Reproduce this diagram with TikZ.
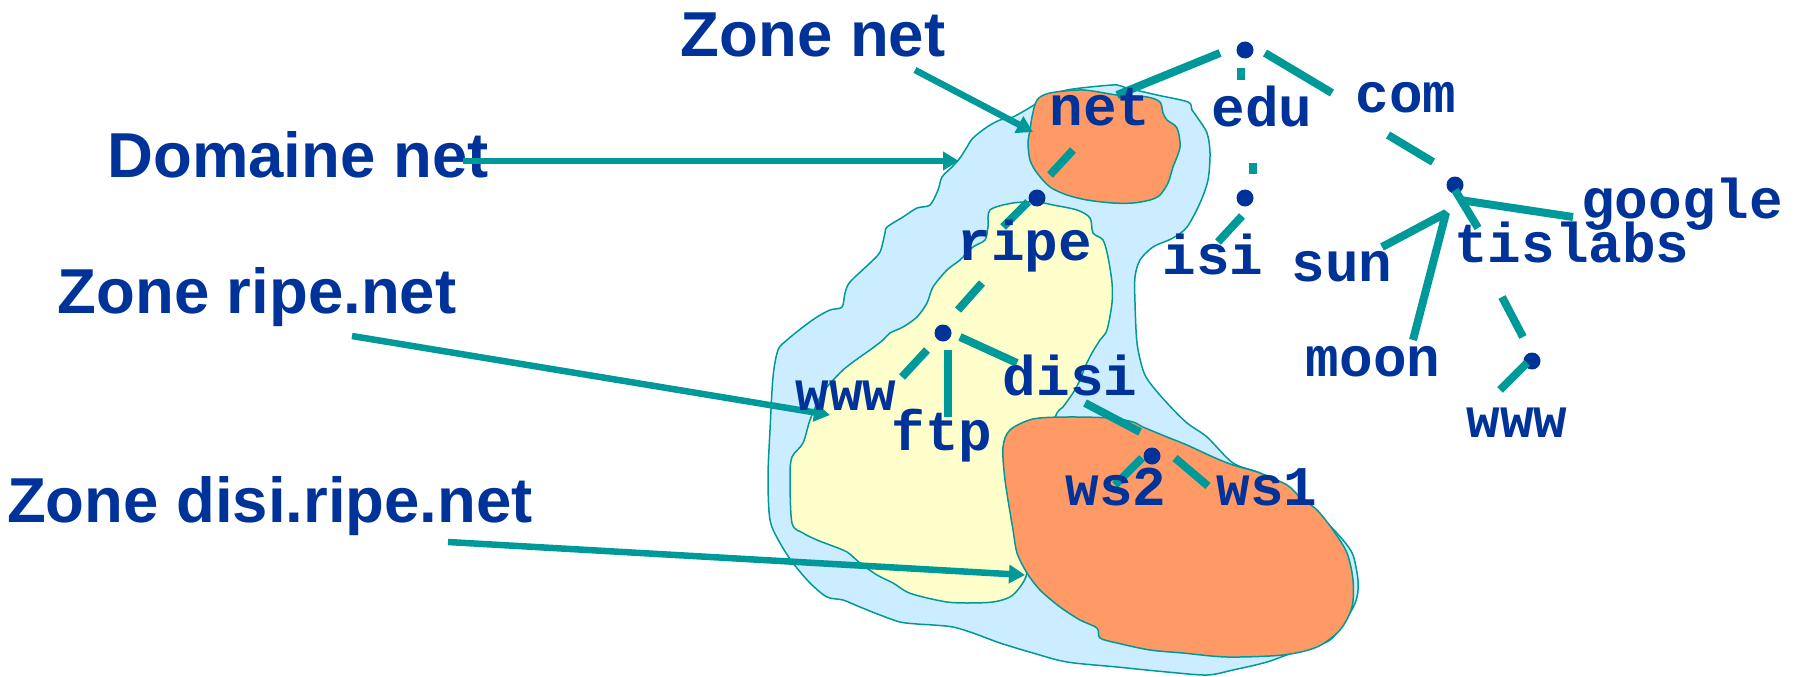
\documentclass[tikz,border=0pt]{standalone}
\usepackage{fontspec}
\setmainfont{Liberation Sans}
\newfontfamily\monofont{Liberation Mono}
\usetikzlibrary{arrows.meta}
\definecolor{tblue}{HTML}{003399}
\definecolor{tealc}{HTML}{009999}
\definecolor{lblue}{HTML}{CCECFF}
\definecolor{lyel}{HTML}{FFFFCC}
\definecolor{orng}{HTML}{FF9966}
\begin{document}
\begin{tikzpicture}[x=1pt,y=-1pt,
  zonelabel/.style={anchor=base, text=tblue, font=\fontsize{63.5}{70}\selectfont\bfseries, inner sep=0pt},
  treelabel/.style={anchor=base, text=tblue, font=\fontsize{56}{60}\selectfont\monofont\bfseries, inner sep=0pt},
  pointer/.style={draw=tealc, line width=6.5pt, -{Triangle[length=16pt,width=18pt]}},
  edge/.style={draw=tealc, line width=8pt},
  dotnode/.style={circle, fill=tblue, minimum size=17pt, inner sep=0pt},
  blob/.style={draw=tealc, line width=1.5pt}
]
\useasboundingbox (0,0) rectangle (1805,677);

% ---- zones (blobs)
\path[blob, fill=lblue] plot[smooth cycle, tension=0.5] coordinates {
 (1040,98) (1067,90) (1100,86) (1117,85) (1127,88) (1157,95) (1188,102) (1192,110)
 (1197,117) (1207,133) (1210,153) (1208,180) (1200,203) (1187,227) (1173,238) (1153,247)
 (1140,260) (1135,277) (1135,303) (1137,343) (1143,370) (1150,383) (1167,403) (1187,423)
 (1207,437) (1233,463) (1260,473) (1283,487) (1307,507) (1327,523) (1343,540) (1353,555)
 (1358,580) (1357,597) (1350,613) (1330,640) (1300,650) (1267,662) (1233,670) (1207,675)
 (1167,672) (1117,667) (1067,662) (1033,653) (1000,643) (973,633) (953,627) (933,625)
 (917,624) (900,622) (880,615) (860,607) (843,600) (827,597) (810,583) (793,563)
 (780,543) (770,520) (768,477) (770,430) (773,377) (778,350) (787,340) (803,327)
 (817,317) (830,310) (842,307) (845,293) (850,282) (870,263) (880,252) (885,233)
 (887,227) (903,217) (917,208) (930,205) (938,190) (942,177) (952,167) (960,158)
 (967,147) (973,138) (987,127) (1000,120) (1013,117) (1037,103)};

\path[blob, fill=lyel] plot[smooth cycle, tension=0.5] coordinates {
 (990,210) (1013,203) (1037,202) (1053,205) (1077,210) (1090,218) (1093,233) (1103,240)
 (1108,257) (1112,283) (1112,303) (1107,330) (1100,340) (1092,353) (1085,367) (1080,380)
 (1073,393) (1063,407) (1055,418) (1040,480) (1030,540) (1027,573) (1020,587) (1010,597)
 (993,602) (967,603) (947,602) (923,597) (907,592) (893,583) (877,575) (860,563)
 (847,552) (830,545) (817,540) (803,533) (792,523) (790,477) (792,457) (803,443)
 (810,420) (820,397) (827,387) (843,370) (860,357) (870,350) (883,340) (890,333)
 (903,327) (917,317) (927,303) (933,287) (947,270) (960,260) (973,247) (985,240)
 (988,227)};

\path[blob, fill=orng] plot[smooth cycle, tension=0.5] coordinates {
 (1037,100) (1050,93) (1083,90) (1117,95) (1147,97) (1160,102) (1163,113) (1167,120)
 (1177,128) (1180,147) (1173,167) (1168,183) (1160,195) (1150,200) (1133,203) (1113,203)
 (1087,200) (1067,195) (1050,187) (1037,173) (1030,160) (1028,143) (1030,130) (1032,117)};

\path[blob, fill=orng] plot[smooth cycle, tension=0.5] coordinates {
 (1033,419) (1067,417) (1110,418) (1133,422) (1143,427) (1167,437) (1187,445) (1213,457)
 (1233,465) (1260,473) (1287,485) (1300,497) (1317,510) (1333,530) (1347,553) (1353,580)
 (1352,607) (1340,630) (1317,647) (1283,655) (1227,657) (1183,653) (1150,650) (1117,643)
 (1100,638) (1097,628) (1080,620) (1060,607) (1040,590) (1027,573) (1017,553) (1013,530)
 (1005,480) (1003,447) (1010,430)};

% ---- zone labels
\node[zonelabel] (lzonenet) at (813,57) {Zone net};
\node[zonelabel] (ldomaine) at (298,177) {Domaine net};
\node[zonelabel] (lzoneripe) at (257,313) {Zone ripe.net};
\node[zonelabel] (lzonedisi) at (270,522) {Zone disi.ripe.net};

% ---- pointer arrows
\coordinate (a1s) at (915,70);   \coordinate (a1e) at (1033,132);
\coordinate (a2s) at (463,161);  \coordinate (a2e) at (959,161);
\coordinate (a3s) at (352,336);  \coordinate (a3e) at (830,415);
\coordinate (a4s) at (448,542);  \coordinate (a4e) at (1025,575);
\draw[pointer] (a1s) -- (a1e);
\draw[pointer] (a2s) -- (a2e);
\draw[pointer] (a3s) -- (a3e);
\draw[pointer] (a4s) -- (a4e);

% ---- tree edges
\coordinate (e1a) at (1220,53);  \coordinate (e1b) at (1117,95);
\coordinate (e2a) at (1241,68);  \coordinate (e2b) at (1241,80);
\coordinate (e3a) at (1265,53);  \coordinate (e3b) at (1332,93);
\coordinate (e4a) at (1253,163); \coordinate (e4b) at (1253,174);
\coordinate (e5a) at (1242,216); \coordinate (e5b) at (1218,242);
\coordinate (e6a) at (1388,135); \coordinate (e6b) at (1433,162);
\coordinate (e7a) at (1455,190); \coordinate (e7b) at (1478,228);
\coordinate (e8a) at (1460,200); \coordinate (e8b) at (1573,217);
\coordinate (e9a) at (1382,247); \coordinate (e9m) at (1446,213); \coordinate (e9b) at (1413,340);
\coordinate (e10a) at (1502,297); \coordinate (e10b) at (1523,337);
\coordinate (e11a) at (1527,363); \coordinate (e11b) at (1500,390);
\coordinate (e12a) at (1073,150); \coordinate (e12b) at (1050,175);
\coordinate (e13a) at (1028,202); \coordinate (e13b) at (1003,227);
\coordinate (e14a) at (982,283);  \coordinate (e14b) at (958,310);
\coordinate (e15a) at (960,337);  \coordinate (e15b) at (1017,363);
\coordinate (e16a) at (948,350);  \coordinate (e16b) at (948,417);
\coordinate (e17a) at (927,350);  \coordinate (e17b) at (902,377);
\coordinate (e18a) at (1085,403); \coordinate (e18b) at (1140,432);
\coordinate (e19a) at (1142,458); \coordinate (e19b) at (1115,485);
\coordinate (e20a) at (1175,458); \coordinate (e20b) at (1208,486);

% ---- dots
\node[dotnode] (root) at (1245,50) {};
\node[dotnode] (isidot) at (1245,198) {};
\node[dotnode] (tisdot) at (1455,185) {};
\node[dotnode] (wwwdot) at (1532,361) {};
\node[dotnode] (ripedot) at (1037,198) {};
\node[dotnode] (ripesub) at (943,333) {};
\node[dotnode] (wsdot) at (1152,456) {};

\draw[edge] (e1a) -- (e1b);
\draw[edge] (e2a) -- (e2b);
\draw[edge] (e3a) -- (e3b);
\draw[edge] (e4a) -- (e4b);
\draw[edge] (e5a) -- (e5b);
\draw[edge] (e6a) -- (e6b);
\draw[edge] (e7a) -- (e7b);
\draw[edge] (e8a) -- (e8b);
\draw[edge, line join=bevel] (e9a) -- (e9m) -- (e9b);
\draw[edge] (e10a) -- (e10b);
\draw[edge] (e11a) -- (e11b);
\draw[edge] (e12a) -- (e12b);
\draw[edge] (e13a) -- (e13b);
\draw[edge] (e14a) -- (e14b);
\draw[edge] (e15a) -- (e15b);
\draw[edge] (e16a) -- (e16b);
\draw[edge] (e17a) -- (e17b);
\draw[edge] (e18a) -- (e18b);
\draw[edge] (e19a) -- (e19b);
\draw[edge] (e20a) -- (e20b);

% ---- tree labels
\node[treelabel] (tnet) at (1100,125) {net};
\node[treelabel] (tedu) at (1262,126) {edu};
\node[treelabel] (tcom) at (1406,113) {com};
\node[treelabel] (tisi) at (1213,274) {isi};
\node[treelabel] (tsun) at (1342,281) {sun};
\node[treelabel] (ttis) at (1572,262) {tislabs};
\node[treelabel] (tgoogle) at (1682,218) {google};
\node[treelabel] (tmoon) at (1373,376) {moon};
\node[treelabel] (twwwr) at (1517,437) {www};
\node[treelabel] (tripe) at (1025,260) {ripe};
\node[treelabel] (twwwl) at (846,410) {www};
\node[treelabel] (tftp) at (942,450) {ftp};
\node[treelabel] (tdisi) at (1070,395) {disi};
\node[treelabel] (tws2) at (1116,505) {ws2};
\node[treelabel] (tws1) at (1267,505) {ws1};
\end{tikzpicture}
\end{document}
